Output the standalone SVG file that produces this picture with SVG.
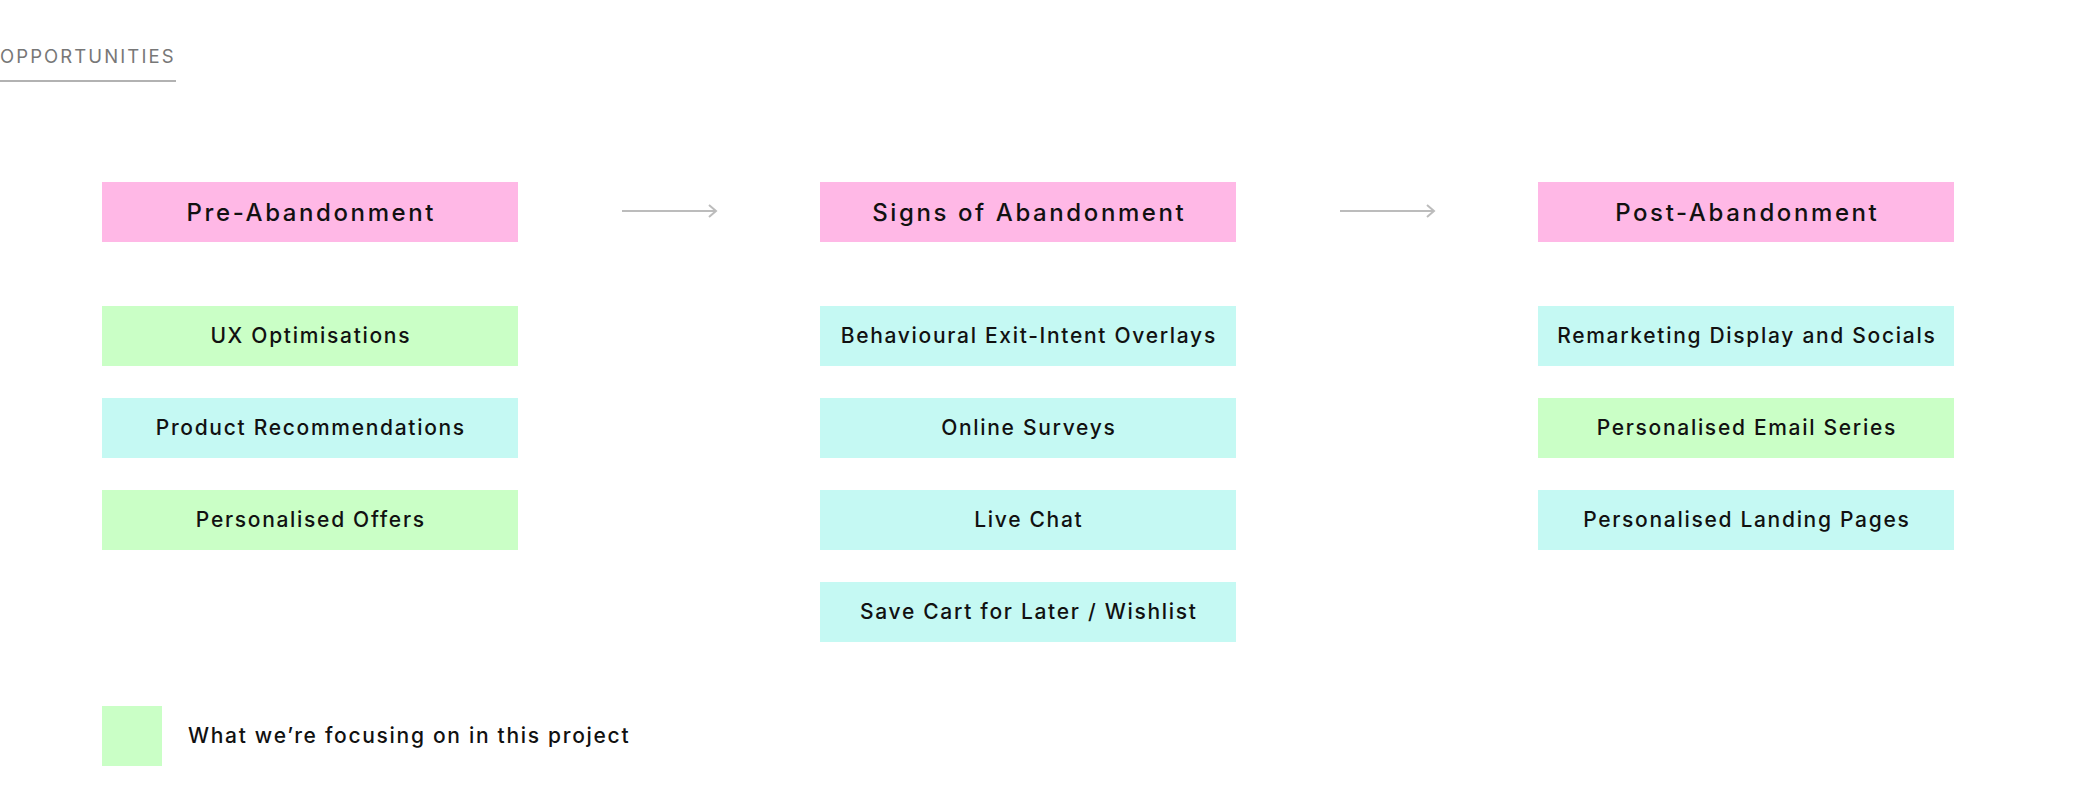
<svg xmlns="http://www.w3.org/2000/svg" width="2080" height="805" viewBox="0 0 2080 805">
<defs>
<style>
.t{font-family:Inter,"Noto Sans","Liberation Sans",sans-serif;fill:#111;text-anchor:middle;font-weight:500}
.title{font-size:24px;letter-spacing:2.6px}
.item{font-size:21px;letter-spacing:1.7px}
.pink{fill:#ffb8e6}
.green{fill:#caffc6}
.cyan{fill:#c5f9f3}
.conn{stroke:#bcbcbc;stroke-width:2;fill:none}
</style>
<marker id="chev" markerUnits="userSpaceOnUse" markerWidth="12" markerHeight="16" refX="9" refY="8" orient="auto" viewBox="0 0 12 16">
<path d="M2,2 L9,8 L2,14" fill="none" stroke="#bcbcbc" stroke-width="2"/>
</marker>
</defs>
<rect width="2080" height="805" fill="#fff"/>
<g id="header">
<text x="0" y="63" font-family="Inter,'Noto Sans','Liberation Sans',sans-serif" font-size="18.5" letter-spacing="2.1" fill="#777">OPPORTUNITIES</text>
<line x1="0" y1="81" x2="176" y2="81" stroke="#999" stroke-width="1.3"/>
</g>
<g id="connectors">
<line class="conn" x1="622" y1="211" x2="716" y2="211" marker-end="url(#chev)"/>
<line class="conn" x1="1340" y1="211" x2="1434" y2="211" marker-end="url(#chev)"/>
</g>
<g id="pre-abandonment"><rect class="pink" x="102" y="182" width="416" height="60"/><text class="t title" x="311.3" y="221">Pre-Abandonment</text></g>
<g id="signs-of-abandonment"><rect class="pink" x="820" y="182" width="416" height="60"/><text class="t title" x="1029.3" y="221">Signs of Abandonment</text></g>
<g id="post-abandonment"><rect class="pink" x="1538" y="182" width="416" height="60"/><text class="t title" x="1747.3" y="221">Post-Abandonment</text></g>

<g id="ux-optimisations"><rect class="green" x="102" y="306" width="416" height="60"/><text class="t item" x="310.8" y="343">UX Optimisations</text></g>
<g id="product-recommendations"><rect class="cyan" x="102" y="398" width="416" height="60"/><text class="t item" x="310.8" y="435">Product Recommendations</text></g>
<g id="personalised-offers"><rect class="green" x="102" y="490" width="416" height="60"/><text class="t item" x="310.8" y="527">Personalised Offers</text></g>

<g id="exit-intent-overlays"><rect class="cyan" x="820" y="306" width="416" height="60"/><text class="t item" x="1028.8" y="343">Behavioural Exit-Intent Overlays</text></g>
<g id="online-surveys"><rect class="cyan" x="820" y="398" width="416" height="60"/><text class="t item" x="1028.8" y="435">Online Surveys</text></g>
<g id="live-chat"><rect class="cyan" x="820" y="490" width="416" height="60"/><text class="t item" x="1028.8" y="527">Live Chat</text></g>
<g id="save-cart"><rect class="cyan" x="820" y="582" width="416" height="60"/><text class="t item" x="1028.8" y="619">Save Cart for Later / Wishlist</text></g>

<g id="remarketing"><rect class="cyan" x="1538" y="306" width="416" height="60"/><text class="t item" x="1746.8" y="343">Remarketing Display and Socials</text></g>
<g id="email-series"><rect class="green" x="1538" y="398" width="416" height="60"/><text class="t item" x="1746.8" y="435">Personalised Email Series</text></g>
<g id="landing-pages"><rect class="cyan" x="1538" y="490" width="416" height="60"/><text class="t item" x="1746.8" y="527">Personalised Landing Pages</text></g>

<g id="legend"><rect class="green" x="102" y="706" width="60" height="60"/><text class="t item" x="188" y="743" style="text-anchor:start">What we’re focusing on in this project</text></g>
</svg>
